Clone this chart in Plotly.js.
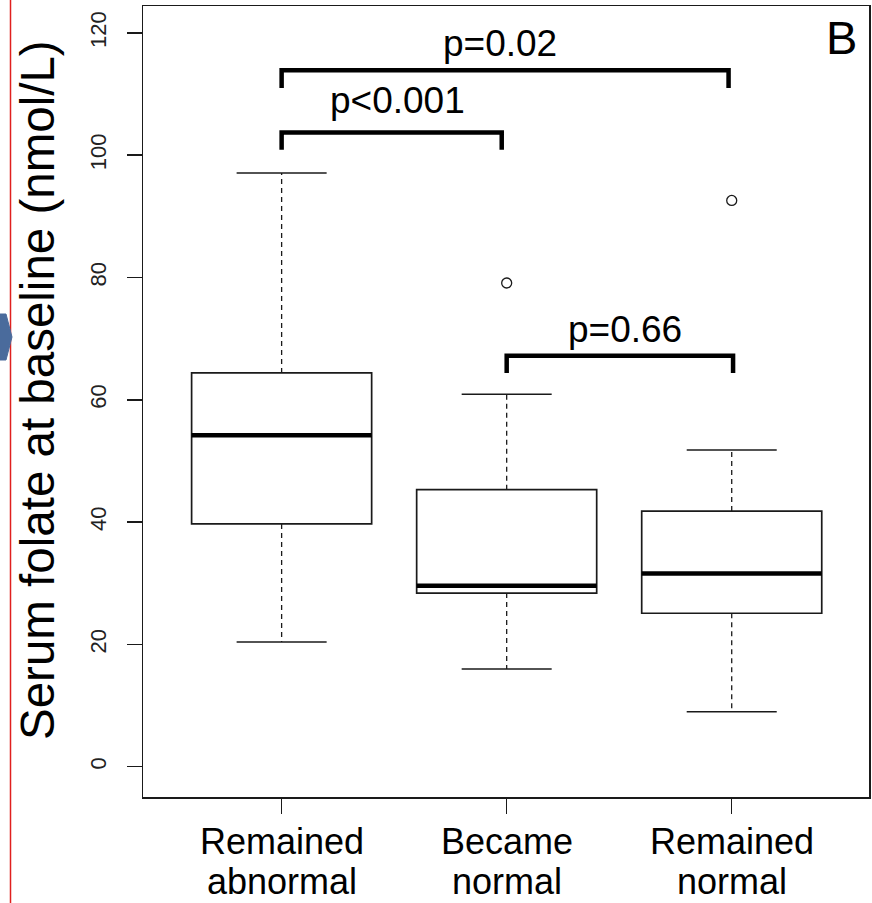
<!DOCTYPE html>
<html>
<head>
<meta charset="utf-8">
<script src="https://cdn.plot.ly/plotly-3.0.1.min.js"></script>
<style>
  html, body { margin: 0; padding: 0; background: #fff; }
  #chart { width: 872px; height: 903px; }
</style>
</head>
<body>
<div id="chart"></div>
<script>
// ---- data ----
const categories = ['Remained<br>abnormal', 'Became<br>normal', 'Remained<br>normal'];
const lowerWhisker = [20.4, 16.0, 9.0];
const q1 = [39.7, 28.4, 25.1];
const median = [54.2, 29.6, 31.6];
const q3 = [64.4, 45.3, 41.8];
const upperWhisker = [97.1, 60.9, 51.8];
const outliers = [[], [79.1], [92.6]];
const yTickVals = [0, 20, 40, 60, 80, 100, 120];
const comparisons = [[1, 3], [1, 2], [2, 3]];
const pLabels = ['p=0.02', 'p<0.001', 'p=0.66'];
const panelLabel = 'B';
const yTitle = 'Serum folate at baseline (nmol/L)';

// ---- layout constants ----
const W = 872, H = 903;
const M = { l: 143, r: 3, t: 6, b: 106 };
const FONT = 'Liberation Sans, Arial, Helvetica, sans-serif';
const boxWidth = 0.8, capHalf = 0.2;
const xs = categories.map((_, i) => i + 1);
const pw = W - M.l - M.r, ph = H - M.t - M.b;
const px = v => (v - M.l) / pw;
const py = v => (H - M.b - v) / ph;

const traces = [];

// boxes (q1..q3 only; whiskers drawn dashed below)
traces.push({
  type: 'box',
  x: xs,
  q1: q1, median: median, q3: q3,
  lowerfence: q1, upperfence: q3,
  width: boxWidth,
  whiskerwidth: 0,
  fillcolor: '#ffffff',
  line: { color: '#1a1a1a', width: 1.7 },
  boxpoints: false,
  hoverinfo: 'skip',
  showlegend: false
});

// whiskers
const wx = [], wy = [];
xs.forEach((c, i) => {
  wx.push(c, c, null, c, c, null);
  wy.push(q3[i], upperWhisker[i], null, q1[i], lowerWhisker[i], null);
});
traces.push({
  type: 'scatter', mode: 'lines', x: wx, y: wy,
  line: { color: '#1a1a1a', width: 1.3, dash: '5px,4px' },
  hoverinfo: 'skip', showlegend: false
});

// whisker caps
const cx = [], cy = [];
xs.forEach((c, i) => {
  cx.push(c - capHalf, c + capHalf, null, c - capHalf, c + capHalf, null);
  cy.push(upperWhisker[i], upperWhisker[i], null, lowerWhisker[i], lowerWhisker[i], null);
});
traces.push({
  type: 'scatter', mode: 'lines', x: cx, y: cy,
  line: { color: '#1a1a1a', width: 1.5 },
  hoverinfo: 'skip', showlegend: false
});

// medians (thick)
const mx = [], my = [];
xs.forEach((c, i) => {
  mx.push(c - boxWidth / 2, c + boxWidth / 2, null);
  my.push(median[i], median[i], null);
});
traces.push({
  type: 'scatter', mode: 'lines', x: mx, y: my,
  line: { color: '#000000', width: 4.5 },
  hoverinfo: 'skip', showlegend: false
});

// outliers
const ox = [], oy = [];
outliers.forEach((arr, i) => arr.forEach(v => { ox.push(xs[i]); oy.push(v); }));
traces.push({
  type: 'scatter', mode: 'markers', x: ox, y: oy,
  marker: { symbol: 'circle-open', size: 10, color: '#1a1a1a', line: { width: 1.3 } },
  hoverinfo: 'skip', showlegend: false
});

// ---- brackets ----
const bracketGeom = [
  { top: 113.9, drop: 2.9, x2adj: -0.014, tx: 1.970, ty: 118.3 },
  { top: 103.7, drop: 2.8, x2adj: -0.022, tx: 1.517, ty: 108.9 },
  { top: 67.2,  drop: 2.8, x2adj: 0.006,  tx: 2.526, ty: 71.5 }
];
const shapes = [];
const annotations = [];
comparisons.forEach((pair, k) => {
  const g = bracketGeom[k];
  const a = pair[0], b = pair[1] + g.x2adj;
  shapes.push({
    type: 'path', xref: 'x', yref: 'y',
    path: `M ${a},${g.top - g.drop} L ${a},${g.top} L ${b},${g.top} L ${b},${g.top - g.drop}`,
    line: { color: '#000', width: 4.5 }
  });
  annotations.push({
    xref: 'x', yref: 'y', x: g.tx, y: g.ty, text: pLabels[k],
    showarrow: false, xanchor: 'center', yanchor: 'middle',
    font: { family: FONT, size: 37, color: '#000' }
  });
});

annotations.push({
  xref: 'x', yref: 'y', x: 3.49, y: 119.2, text: panelLabel,
  showarrow: false, xanchor: 'center', yanchor: 'middle',
  font: { family: FONT, size: 47, color: '#000' }
});

// x category labels: two lines each, with R-like tight line spacing
const labelLines = categories.map(c => c.split('<br>'));
labelLines.forEach((lines, i) => {
  lines.forEach((t, j) => {
    annotations.push({
      xref: 'x', yref: 'paper', x: xs[i], y: py(841 + j * 40), text: t,
      showarrow: false, xanchor: 'center', yanchor: 'middle',
      font: { family: FONT, size: 36, color: '#000' }
    });
  });
});

// y axis title (rotated)
annotations.push({
  xref: 'paper', yref: 'paper', x: px(37), y: py(390), text: yTitle,
  textangle: -90, showarrow: false, xanchor: 'center', yanchor: 'middle',
  font: { family: FONT, size: 47.5, color: '#000' }
});

// decorations outside the plot (red margin line and blue marker)
shapes.push({
  type: 'line', xref: 'paper', yref: 'paper',
  x0: px(10.5), x1: px(10.5), y0: py(H), y1: py(0),
  line: { color: '#e0201e', width: 1.5 }
});
shapes.push({
  type: 'path', xref: 'paper', yref: 'paper',
  path: `M ${px(-2)},${py(314)} L ${px(6)},${py(314)} L ${px(12)},${py(337)} L ${px(6)},${py(360)} L ${px(-2)},${py(360)} Z`,
  fillcolor: '#4a6b9c', line: { color: '#4a6b9c', width: 1 }
});

const layout = {
  width: W, height: H,
  margin: M,
  paper_bgcolor: '#fff', plot_bgcolor: '#fff',
  showlegend: false,
  font: { family: FONT, color: '#000' },
  xaxis: {
    range: [0.384, 3.61],
    tickmode: 'array', tickvals: xs, ticktext: xs.map(() => ''),
    ticks: 'outside', ticklen: 15, tickwidth: 1.5, tickcolor: '#1a1a1a',
    showline: true, mirror: true, linecolor: '#1a1a1a', linewidth: 1.5,
    showgrid: false, zeroline: false, fixedrange: true
  },
  yaxis: {
    range: [-4.95, 124.4],
    tickmode: 'array', tickvals: yTickVals,
    ticktext: yTickVals.map(String),
    tickangle: -90,
    ticks: 'outside', ticklen: 15, tickwidth: 1.5, tickcolor: '#1a1a1a',
    ticklabelstandoff: 12,
    tickfont: { family: FONT, size: 22, color: '#222' },
    showline: true, mirror: true, linecolor: '#1a1a1a', linewidth: 1.5,
    showgrid: false, zeroline: false, fixedrange: true
  },
  shapes: shapes,
  annotations: annotations
};

Plotly.newPlot('chart', traces, layout, { displayModeBar: false, staticPlot: true });
</script>
</body>
</html>
